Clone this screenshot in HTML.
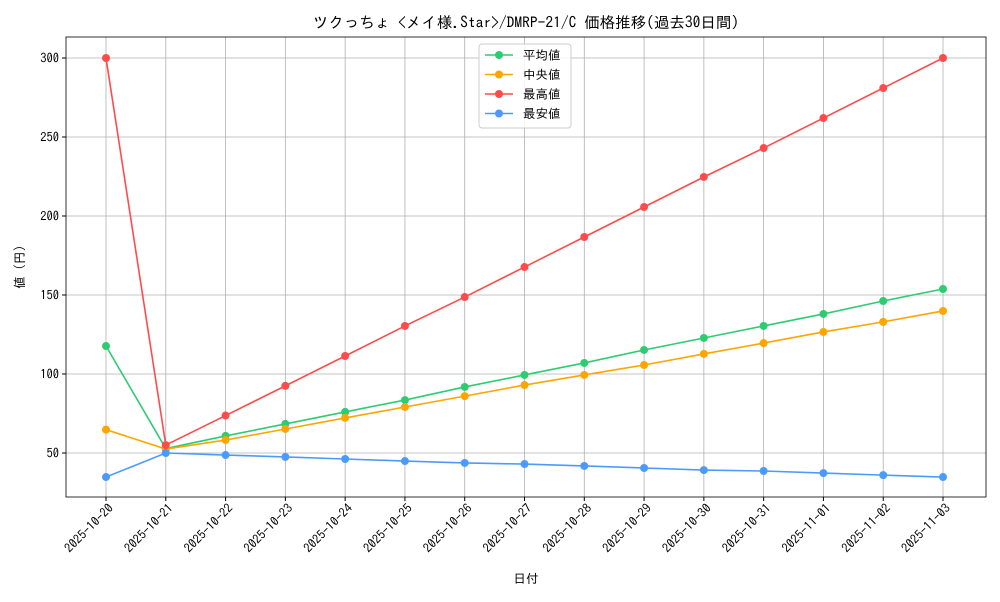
<!DOCTYPE html>
<html><head><meta charset="utf-8"><style>
body{margin:0;background:#fff;font-family:"IPAGothic","Noto Sans CJK JP",monospace;}
</style></head><body>
<svg id="c" width="1000" height="600" xmlns="http://www.w3.org/2000/svg"></svg>
<script>
const categories=["2025-10-20","2025-10-21","2025-10-22","2025-10-23","2025-10-24","2025-10-25","2025-10-26","2025-10-27","2025-10-28","2025-10-29","2025-10-30","2025-10-31","2025-11-01","2025-11-02","2025-11-03"];
const avgValues=[117.7,52.8,60.8,68.4,76,83.5,91.8,99.4,107,115.2,122.8,130.4,138,146.2,153.8];
const medianValues=[64.8,52.5,58.2,65.2,72.2,79.1,86,93,99.4,105.7,112.7,119.6,126.6,133,139.9];
const maxValues=[300,55,73.7,92.5,111.4,130.4,148.7,167.7,186.7,205.7,224.7,243,262,281,300];
const minValues=[34.8,50,48.7,47.5,46.2,44.9,43.7,43,41.8,40.5,39.2,38.6,37.3,36,34.8];
const yTicks=[50,100,150,200,250,300];
const seriesNames=["平均値","中央値","最高値","最安値"];
const NS="http://www.w3.org/2000/svg";
const svg=document.getElementById('c');
const L=66,R=986,T=37,B=497;
const xs=i=>106+i*(943-106)/(categories.length-1);
const ys=v=>532-v*1.58;
function el(t,a,p){const e=document.createElementNS(NS,t);for(const k in a)e.setAttribute(k,a[k]);(p||svg).appendChild(e);return e;}
categories.forEach((c,i)=>{const g=el('line',{x1:xs(i),x2:xs(i),y1:T,y2:B,stroke:'#b0b0b0','stroke-width':0.8});


el('line',{x1:xs(i),x2:xs(i),y1:B,y2:B+4,stroke:'#000'});
const t=el('text',{x:0,y:0,'font-size':12.5,'text-anchor':'end',transform:`translate(${xs(i)+8},${B+12}) rotate(-45)`});t.textContent=c;

});
yTicks.forEach(v=>{const g=el('line',{x1:L,x2:R,y1:ys(v),y2:ys(v),stroke:'#b0b0b0','stroke-width':0.8});


el('line',{x1:L-4,x2:L,y1:ys(v),y2:ys(v),stroke:'#000'});
const t=el('text',{x:L-7,y:ys(v)+4.5,'font-size':12.5,'text-anchor':'end'});t.textContent=v;

});
const frame=el('rect',{x:L,y:T,width:R-L,height:B-T,fill:'none',stroke:'#000','stroke-width':0.8});


const series=[[avgValues,'#2ecc71','avg'],[medianValues,'#ffa500','median'],[maxValues,'#ff4b4b','max'],[minValues,'#4b9bff','min']];
series.forEach(([vals,col,n])=>{const g=el('g',{});


el('polyline',{points:vals.map((v,i)=>xs(i)+','+ys(v)).join(' '),fill:'none',stroke:col,'stroke-width':1.6},g);
vals.forEach((v,i)=>{const p=el('circle',{cx:xs(i),cy:ys(v),r:4,fill:col},g);

});});
const lg=el('g',{});


el('rect',{x:479,y:44,width:92,height:84,rx:3,fill:'#fff','fill-opacity':0.85,stroke:'#ccc'},lg);
series.forEach(([v,col,n],i)=>{const y=55+i*19.5;
const e=el('g',{},lg);


el('line',{x1:485,x2:513,y1:y,y2:y,stroke:col,'stroke-width':1.6},e);
el('circle',{cx:499,cy:y,r:4,fill:col},e);
const t=el('text',{x:523,y:y+4.5,'font-size':12.5},e);t.textContent=seriesNames[i];});
const title=el('text',{x:526,y:28,'font-size':15.5,'text-anchor':'middle'});title.textContent='ツクっちょ <メイ様.Star>/DMRP-21/C 価格推移(過去30日間)';


const xt=el('text',{x:526,y:583,'font-size':12.5,'text-anchor':'middle'});xt.textContent='日付';


const yt=el('text',{x:0,y:0,'font-size':12.5,'text-anchor':'middle',transform:'translate(24,267) rotate(-90)'});yt.textContent='値 (円)';


</script>
</body></html>
